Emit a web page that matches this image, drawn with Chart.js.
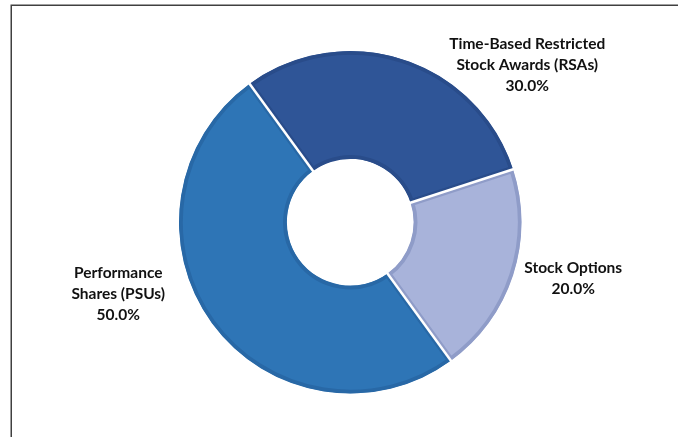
<!DOCTYPE html>
<html>
<head>
<meta charset="utf-8">
<script src="https://cdn.jsdelivr.net/npm/chart.js@4.4.1/dist/chart.umd.min.js"></script>
<style>
  html, body { margin: 0; padding: 0; background: #ffffff; }
  #wrap { position: relative; width: 678px; height: 437px; overflow: hidden; }
</style>
</head>
<body>
<div id="wrap"><canvas id="award_mix" width="678" height="437"></canvas></div>
<script>
// award types, clockwise from the top-left split
const categories = [
    ["Time-Based Restricted", "Stock Awards (RSAs)"],
    ["Stock Options"],
    ["Performance", "Shares (PSUs)"]
];
const values = [30, 20, 50];
const fill_colors = ["#2F5597", "#A8B3DA", "#2E75B6"];
const edge_colors = ["#294C8A", "#8F9CC8", "#2868A6"];

// label block offsets from the ring centre (x, y of the middle line)
const label_offsets = [[177, -157], [223, 56], [-232, 72]];

const framePlugin = {
    id: "frame",
    beforeDraw(chart){
        const ctx = chart.ctx;
        ctx.save();
        ctx.fillStyle = "#ffffff";
        ctx.fillRect(0, 0, chart.width, chart.height);
        ctx.strokeStyle = "#404040";
        ctx.lineWidth = 1.5;
        ctx.strokeRect(11.25, 5.25, 720, 520);
        ctx.restore();
    }
};

// thin white seams where one slice meets the next
const seams = {
    id: "seams",
    afterDatasetsDraw(chart, args, opts){
        const ctx = chart.ctx;
        const meta = chart.getDatasetMeta(0);
        ctx.save();
        ctx.strokeStyle = opts.color;
        ctx.lineWidth = opts.width;
        ctx.lineCap = "butt";
        for(let i in meta.data){
            const arc = meta.data[i];
            const a = arc.startAngle;
            ctx.beginPath();
            ctx.moveTo(arc.x + Math.cos(a) * (arc.innerRadius - 1), arc.y + Math.sin(a) * (arc.innerRadius - 1));
            ctx.lineTo(arc.x + Math.cos(a) * (arc.outerRadius + 1), arc.y + Math.sin(a) * (arc.outerRadius + 1));
            ctx.stroke();
        }
        ctx.restore();
    }
};

const sliceLabels = {
    id: "sliceLabels",
    afterDatasetsDraw(chart, args, opts){
        const ctx = chart.ctx;
        const meta = chart.getDatasetMeta(0);
        const data = chart.data.datasets[0].data;
        const total = data.reduce(function(a, b){ return a + b; }, 0);
        ctx.save();
        ctx.font = opts.font;
        ctx.fillStyle = opts.color;
        ctx.textAlign = "center";
        ctx.textBaseline = "middle";
        for(let i in meta.data){
            const arc = meta.data[i];
            const lines = chart.data.labels[i].slice();
            lines.push((data[i] / total * 100).toFixed(1) + "%");
            const off = opts.offsets[i];
            const cx = arc.x + off[0];
            const mid = arc.y + off[1];
            const top = mid - (lines.length - 1) / 2 * opts.lineHeight;
            for(let j = 0; j < lines.length; j++){
                ctx.fillText(lines[j], cx, top + j * opts.lineHeight);
            }
        }
        ctx.restore();
    }
};

new Chart(document.getElementById("award_mix").getContext("2d"), {
    type: "doughnut",
    data: {
        labels: categories,
        datasets: [{
            data: values,
            backgroundColor: fill_colors,
            borderColor: edge_colors,
            borderWidth: 3.5,
            borderAlign: "inner",
            borderJoinStyle: "miter",
            hoverOffset: 0
        }]
    },
    options: {
        responsive: false,
        animation: false,
        rotation: -36,
        cutout: "37%",
        layout: { padding: { left: 179, right: 156.5, top: 51, bottom: 43.5 } },
        plugins: {
            legend: { display: false },
            tooltip: { enabled: false },
            seams: { color: "#ffffff", width: 2.5 },
            sliceLabels: {
                font: "bold 15.5px Lato",
                color: "#111111",
                lineHeight: 21,
                offsets: label_offsets
            }
        }
    },
    plugins: [framePlugin, seams, sliceLabels]
});
</script>
</body>
</html>
